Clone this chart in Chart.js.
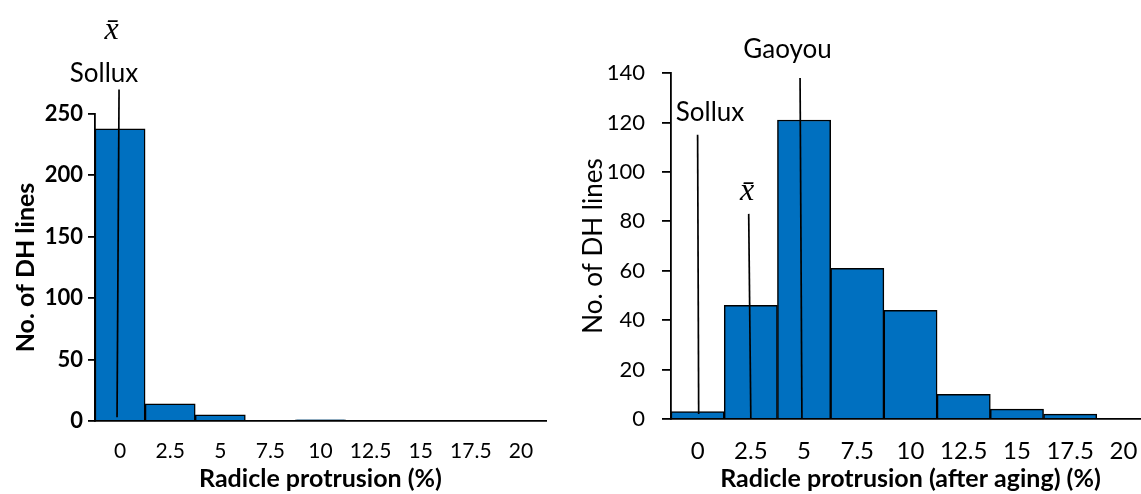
<!DOCTYPE html>
<html>
<head>
<meta charset="utf-8">
<script src="https://cdn.jsdelivr.net/npm/chart.js@4.4.1/dist/chart.umd.min.js"></script>
<style>
  html, body { margin: 0; padding: 0; background: #fff; overflow: hidden; width: 1141px; height: 494px; }
  #c1 { position: absolute; left: 0; top: 0; }
  #c2 { position: absolute; left: 560px; top: 0; }
</style>
</head>
<body>
<canvas id="c1" width="560" height="494"></canvas>
<canvas id="c2" width="600" height="494"></canvas>
<script>
// Histogram bins (radicle protrusion, %)
const binLabels = ['0', '2.5', '5', '7.5', '10', '12.5', '15', '17.5', '20'];

// Number of DH lines per bin
const countsBefore = [238, 14, 5, 0, 1, 0, 0, 0, 0];
const countsAfter  = [3, 46, 121, 61, 44, 10, 4, 2, 0];

// Count axis ranges
const yRangeBefore = [0, 250, 50];
const yRangeAfter  = [0, 140, 20];

// Reference lines: bin position at top / bottom, count at top / bottom
const linesBefore = [
  { xTop: -0.02, xBottom: -0.06, yTop: 270, yBottom: 3 }      // Sollux / mean
];
const linesAfter = [
  { xTop: 0.0,   xBottom: 0.02, yTop: 115, yBottom: 2 },      // Sollux
  { xTop: 0.96,  xBottom: 1.0,  yTop: 83,  yBottom: 0 },      // mean
  { xTop: 1.925, xBottom: 1.96, yTop: 138, yBottom: 0 }       // Gaoyou
];

// Line captions: bin position and count of the caption centre
const notesBefore = [
  { text: 'x\u0304', x: -0.17, y: 318, math: true },
  { text: 'Sollux',  x: -0.32, y: 283 }
];
const notesAfter = [
  { text: 'Sollux',  x: 0.233, y: 124 },
  { text: 'x\u0304', x: 0.93,  y: 92, math: true },
  { text: 'Gaoyou',  x: 1.69,  y: 149.6 }
];

Chart.defaults.color = '#000';
Chart.defaults.font.family = 'Lato';

const markerPlugin = {
  id: 'markers',
  afterDatasetsDraw(chart, args, opts) {
    const { ctx, scales: { x, y } } = chart;
    ctx.save();
    ctx.strokeStyle = '#000';
    ctx.lineWidth = 1.7;
    opts.lines.forEach(m => {
      ctx.beginPath();
      ctx.moveTo(x.getPixelForValue(m.xTop), y.getPixelForValue(m.yTop));
      ctx.lineTo(x.getPixelForValue(m.xBottom), y.getPixelForValue(m.yBottom));
      ctx.stroke();
    });
    ctx.fillStyle = '#000';
    ctx.textAlign = 'center';
    ctx.textBaseline = 'middle';
    opts.notes.forEach(n => {
      ctx.font = n.math ? opts.mathFont : opts.textFont;
      ctx.fillText(n.text, x.getPixelForValue(n.x), y.getPixelForValue(n.y));
    });
    ctx.restore();
  }
};

function histogram(id, counts, yRange, lines, notes, s) {
  return new Chart(document.getElementById(id), {
    type: 'bar',
    data: {
      labels: binLabels,
      datasets: [{
        data: counts,
        backgroundColor: '#0070C0',
        borderColor: '#000',
        borderWidth: 1.5,
        categoryPercentage: 1.0,
        barPercentage: 1.0
      }]
    },
    options: {
      responsive: false,
      animation: false,
      events: [],
      layout: { padding: s.padding },
      plugins: {
        legend: { display: false },
        tooltip: { enabled: false },
        markers: { lines, notes, textFont: s.textFont, mathFont: s.mathFont }
      },
      scales: {
        x: {
          offset: true,
          grid: { display: false, drawTicks: false, tickLength: 0 },
          border: { display: true, color: '#000', width: 1.8 },
          ticks: { font: s.xTickFont, padding: s.xTickPad, maxRotation: 0, autoSkip: false },
          title: { display: true, text: s.xTitle, font: s.xTitleFont, padding: { top: 0, bottom: s.xTitlePad } },
          afterFit(scale) { scale.height = s.xHeight; }
        },
        y: {
          min: yRange[0], max: yRange[1],
          grid: { drawOnChartArea: false, drawTicks: true, tickLength: s.tickLen, color: '#000', lineWidth: 1.8 },
          border: { display: true, color: '#000', width: 1.8 },
          ticks: { stepSize: yRange[2], font: s.yTickFont, padding: s.yTickPad },
          title: { display: true, text: 'No. of DH lines', font: s.yTitleFont, padding: { top: s.yTitlePad, bottom: 0 } },
          afterFit(scale) { scale.width = s.yWidth; }
        }
      }
    },
    plugins: [markerPlugin]
  });
}

histogram('c1', countsBefore, yRangeBefore, linesBefore, notesBefore, {
  padding: { top: 114, right: 14, left: 0, bottom: 0 },
  xHeight: 73, yWidth: 95, tickLen: 7,
  xTickFont: { size: 21 }, xTickPad: 18,
  yTickFont: { size: 22, weight: 'bold' }, yTickPad: 5,
  xTitle: 'Radicle protrusion (%)', xTitleFont: { size: 25, weight: 'bold' }, xTitlePad: 0,
  yTitleFont: { size: 25, weight: 'bold' }, yTitlePad: 11,
  textFont: '26px Lato', mathFont: 'italic 32px "Liberation Serif"'
});

histogram('c2', countsAfter, yRangeAfter, linesAfter, notesAfter, {
  padding: { top: 73, right: 10, left: 0, bottom: 0 },
  xHeight: 75, yWidth: 111, tickLen: 9,
  xTickFont: { size: 24 }, xTickPad: 18,
  yTickFont: { size: 22 }, yTickPad: 17,
  xTitle: 'Radicle protrusion (after aging) (%)', xTitleFont: { size: 25, weight: 'bold' }, xTitlePad: 0,
  yTitleFont: { size: 26 }, yTitlePad: 18,
  textFont: '26px Lato', mathFont: 'italic 32px "Liberation Serif"'
});
</script>
</body>
</html>
